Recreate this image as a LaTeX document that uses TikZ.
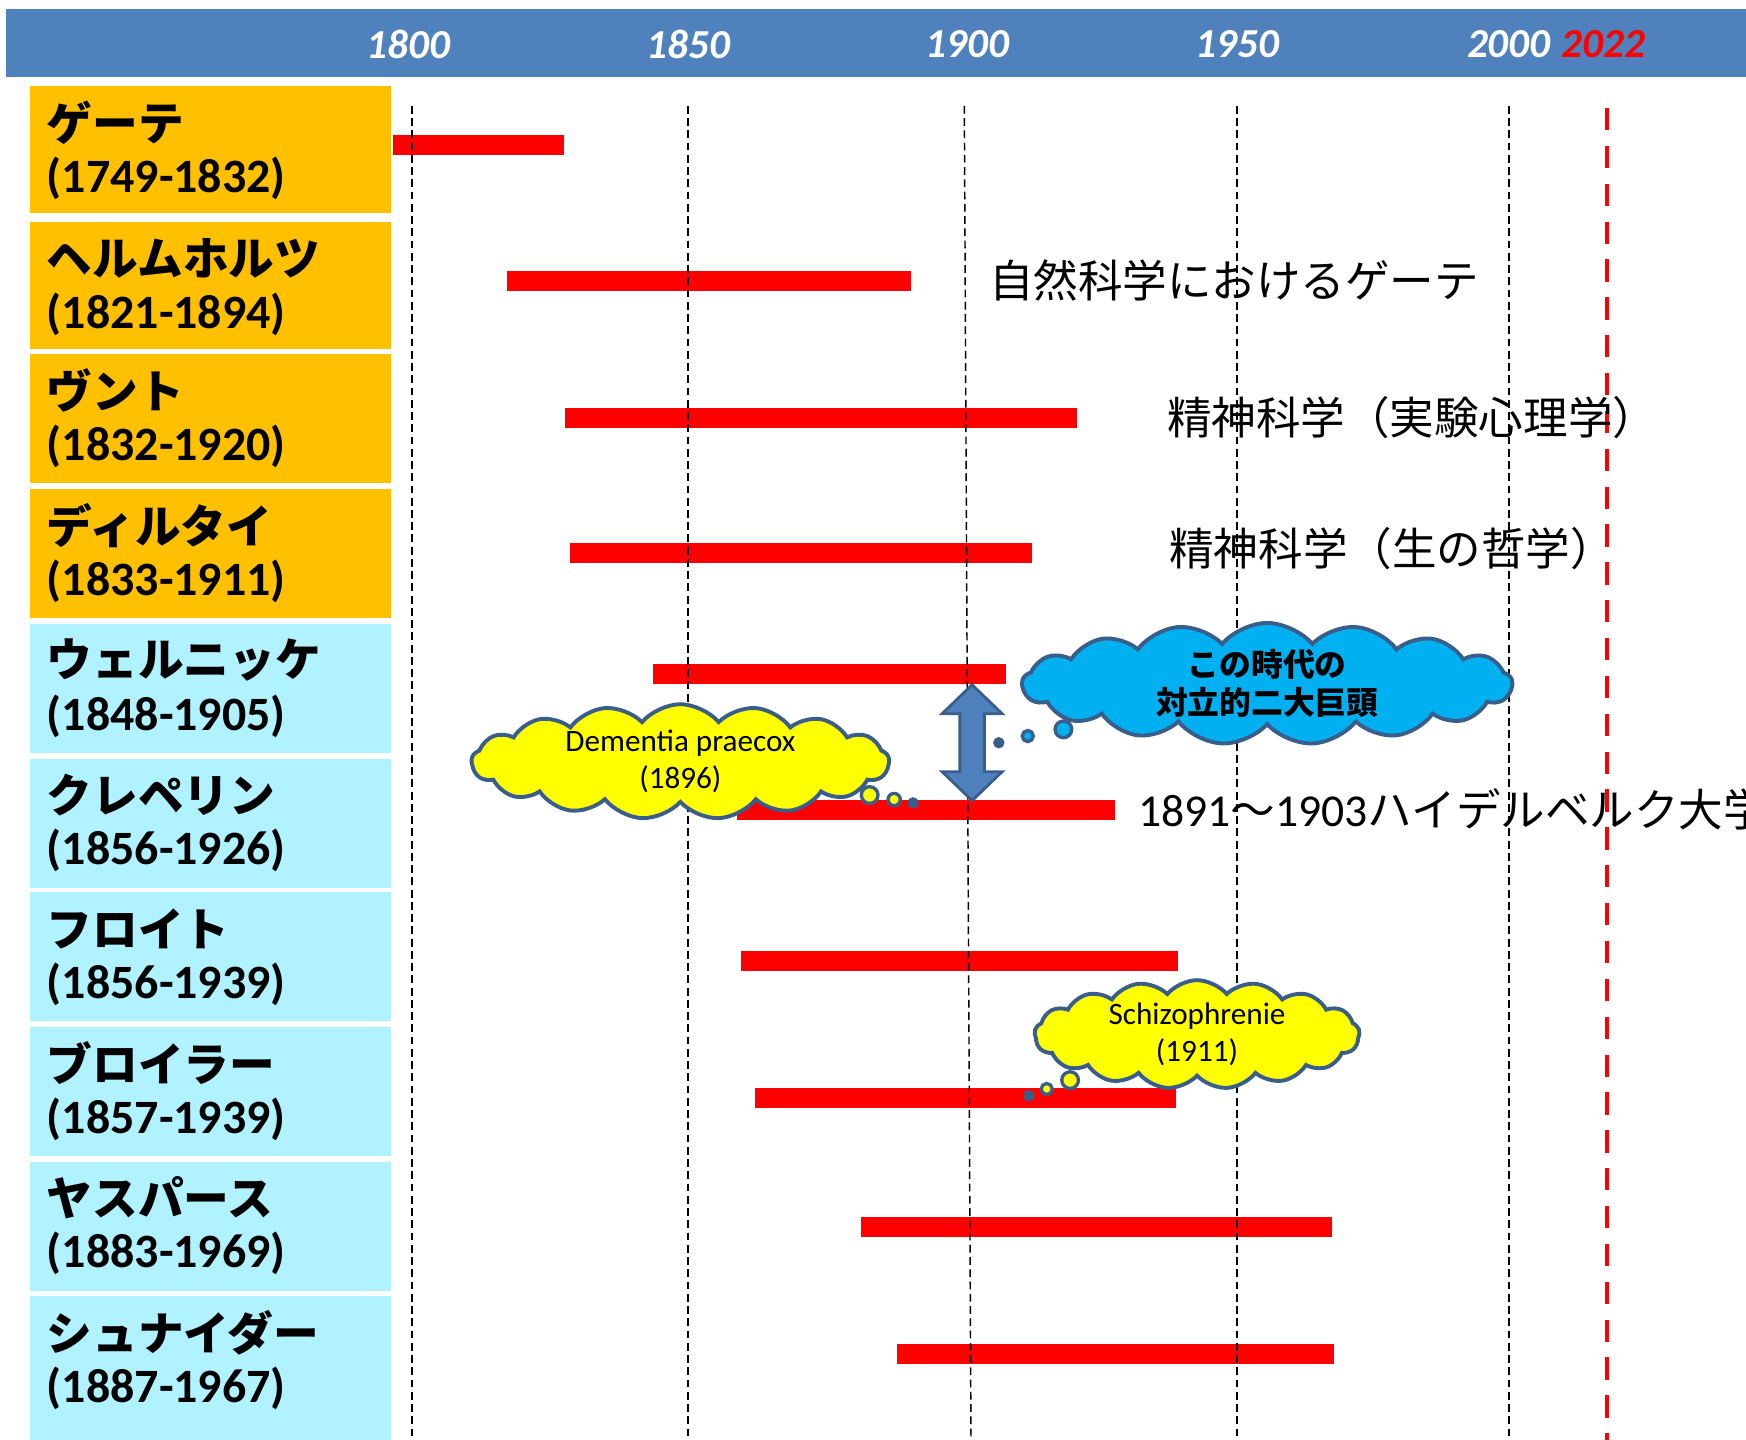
\documentclass[tikz,border=0pt]{standalone}
\usepackage{fontspec}
\setmainfont{Carlito}
\newfontfamily\jp{Noto Sans CJK JP}
\usetikzlibrary{shapes.symbols}

\definecolor{hdrblue}{HTML}{4F81BD}
\definecolor{gold}{HTML}{FFC000}
\definecolor{sky}{HTML}{B0F2FF}
\definecolor{cloudline}{HTML}{3A5E8C}
\definecolor{cyanfill}{HTML}{00B0F0}
\definecolor{lemon}{HTML}{FFFF00}

\begin{document}
\begin{tikzpicture}[x=1pt,y=1pt,
    yearlbl/.style={text=white,inner sep=0,font=\bfseries\itshape\fontsize{37}{44}\selectfont},
    namebox/.style={anchor=north west,inner sep=0,minimum width=324,fill=#1},
    who/.style={anchor=west,inner sep=0,font=\jp\bfseries\fontsize{41}{49}\selectfont},
    yrs/.style={anchor=west,inner sep=0,font=\bfseries\fontsize{43}{50}\selectfont},
    lifebar/.style={anchor=west,fill=red,inner sep=0,minimum height=18},
    gridline/.style={line width=1.3,dash pattern=on 7 off 4},
    note/.style={anchor=west,inner sep=0,font=\jp\fontsize{40}{48}\selectfont},
    thought/.style={cloud,cloud puffs=17,cloud puff arc=100,cloud ignores aspect,draw=cloudline,line width=3.5,fill=#1,align=center,inner sep=0},
    bubble/.style={circle,draw=cloudline,line width=3,inner sep=0,fill=#1}]

  \useasboundingbox (0,0) rectangle (1568,-1293);

  % header with the years
  \fill[hdrblue] (5,-8) rectangle (1575,-69);
  \foreach \yr/\x in {1800/367,1850/618,1900/869,1950/1111,2000/1355}
    \node[yearlbl] (y\yr) at (\x,-40) {\yr};
  \node[yearlbl,text=red] (y2022) at (1440,-40) {2022};

  % one row per person
  \foreach \i/\who/\yrs/\col/\top/\hgt in {
      1/ゲーテ/1749-1832/gold/77/114,
      2/ヘルムホルツ/1821-1894/gold/199/114,
      3/ヴント/1832-1920/gold/318/116,
      4/ディルタイ/1833-1911/gold/439/116,
      5/ウェルニッケ/1848-1905/sky/560/116,
      6/クレペリン/1856-1926/sky/681/116,
      7/フロイト/1856-1939/sky/801/116,
      8/ブロイラー/1857-1939/sky/922/116,
      9/ヤスパース/1883-1969/sky/1043/116,
      10/シュナイダー/1887-1967/sky/1164/129}{
    \node[namebox=\col,minimum height=\hgt] (box\i) at (27,-\top) {};
    \node[who] (who\i) at ([shift={(15,-33)}]box\i.north west) {\who};
    \node[yrs] (yrs\i) at ([shift={(15,-83)}]box\i.north west) {(\yrs)};
  }

  % life spans
  \foreach \i/\a/\b/\y in {1/353/506/130, 2/455/818/252, 3/507/967/375,
      4/512/927/497, 5/586/903/605, 6/662/1001/727, 7/665/1058/863,
      8/678/1056/986, 9/773/1196/1102, 10/805/1198/1216}
    \node[lifebar,minimum width=\b-\a] (bar\i) at (\a,-\y) {};

  % year lines
  \draw[gridline] (370,-95) -- (370,-1293);
  \draw[gridline] (618,-95) -- (618,-1293);
  \draw[gridline] (866,-95) -- (872,-1293);
  \draw[gridline] (1111,-95) -- (1111,-1293);
  \draw[gridline] (1355,-95) -- (1355,-1293);
  \draw[red,line width=4,dash pattern=on 20 off 14] (1443,-97) -- (1443,-1293);

  % remarks
  \node[note] (goethe) at (888,-252) {自然科学におけるゲーテ};
  \node[note] (wundt) at (1048,-375) {精神科学（実験心理学）};
  \node[note] (dilthey) at (1050,-493) {精神科学（生の哲学）};
  \begin{scope}
    \clip (0,0) rectangle (1568,-1293);
    \node[note] (heidel) at (1022,-727)
      {{\normalfont\fontsize{41}{48}\selectfont 1891}～{\normalfont\fontsize{41}{48}\selectfont 1903}ハイデルベルク大学};
  \end{scope}

  % clash of the two
  \coordinate (clash) at (873,-667);
  \draw[fill=hdrblue,draw=cloudline,line width=2.5] ([shift={(0,52)}]clash)
    -- ++(-27,-26) -- ++(16,0) -- ++(0,-52) -- ++(-16,0) -- ++(27,-26)
    -- ++(27,26) -- ++(-16,0) -- ++(0,52) -- ++(16,0) -- cycle;

  % thought clouds
  \node[thought=cyanfill,minimum width=440,minimum height=70,
        font=\jp\bfseries\fontsize{28.5}{34}\selectfont] (era) at (1138,-614) {この時代の\\対立的二大巨頭};
  \node[bubble=cyanfill,minimum size=15] (era1) at (955,-655) {};
  \node[bubble=cyanfill,minimum size=10] (era2) at (923,-661) {};
  \node[bubble=cloudline,minimum size=7] (era3) at (897,-667) {};

  \node[thought=lemon,minimum width=375,minimum height=72,
        font=\fontsize{28}{33}\selectfont] (dp) at (611,-684) {Dementia praecox\\(1896)};
  \node[bubble=lemon,minimum size=15] (dp1) at (781,-714) {};
  \node[bubble=lemon,minimum size=11] (dp2) at (803,-718) {};
  \node[bubble=cloudline,minimum size=7] (dp3) at (820,-721) {};

  \node[thought=lemon,minimum width=292,minimum height=74,
        font=\fontsize{28}{33}\selectfont] (sz) at (1075,-929) {Schizophrenie\\(1911)};
  \node[bubble=lemon,minimum size=15] (sz1) at (961,-970) {};
  \node[bubble=lemon,minimum size=10] (sz2) at (940,-978) {};
  \node[bubble=cloudline,minimum size=7] (sz3) at (924,-984) {};

\end{tikzpicture}
\end{document}
